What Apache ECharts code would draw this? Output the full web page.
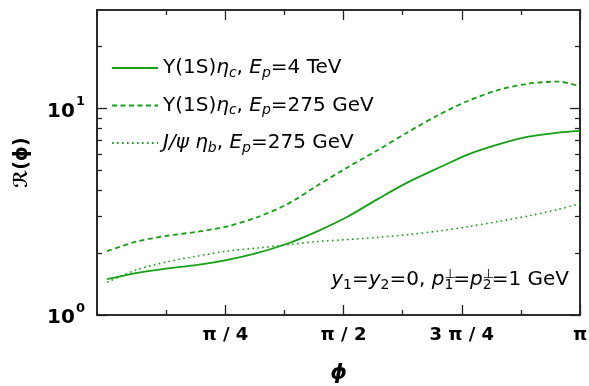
<!DOCTYPE html>
<html>
<head>
<meta charset="utf-8">
<script src="https://cdn.jsdelivr.net/npm/echarts@6/dist/echarts.min.js"></script>
<style>
  html, body { margin: 0; padding: 0; background: #fff; }
  #chart { width: 589px; height: 386px; }
</style>
</head>
<body>
<div id="chart"></div>
<script>
// phi grid (radians) and the three ratio curves
const phi = [0, 0.2, 0.4, 0.6, 0.8, 1.0, 1.2, 1.4, 1.6, 1.8, 2.0, 2.2, 2.4, 2.6, 2.8, 3.0, Math.PI];
const upsEtac4TeV = [1.49, 1.60, 1.68, 1.75, 1.85, 2.0, 2.22, 2.55, 3.0, 3.65, 4.4, 5.15, 6.0, 6.7, 7.3, 7.65, 7.8];
const upsEtac275 = [2.04, 2.27, 2.42, 2.53, 2.69, 2.98, 3.45, 4.25, 5.2, 6.3, 7.7, 9.3, 10.9, 12.3, 13.2, 13.5, 12.8];
const psiEtab275 = [1.44, 1.66, 1.81, 1.93, 2.04, 2.11, 2.19, 2.27, 2.32, 2.38, 2.45, 2.55, 2.68, 2.84, 3.02, 3.25, 3.46];

const seriesNames = ['ups4', 'ups275', 'psi275'];

// axis ticks
const xMajor = [Math.PI / 4, Math.PI / 2, 3 * Math.PI / 4, Math.PI];
const xMajorLabels = ['π / 4', 'π / 2', '3 π / 4', 'π'];
const xMinor = [Math.PI / 8, 3 * Math.PI / 8, 5 * Math.PI / 8, 7 * Math.PI / 8];
const yMajor = [1, 10];
const yMajorLabels = ['0', '1'];
const yMinor = [2, 3, 4, 5, 6, 7, 8, 9, 20];

const green = '#14a014';
const frame = '#222';
const font = 'DejaVu Sans';

const chart = echarts.init(document.getElementById('chart'));

function pairs(ys) {
  return phi.map((p, i) => [p, ys[i]]);
}

// same rectangle for every grid: one grid per pair of tick axes
const gridBox = { left: 97, right: 9, top: 10, bottom: 71, containLabel: false, outerBoundsMode: 'none' };

function xAxisCfg(grid, pos, ticks, len, withLabels) {
  return {
    gridIndex: grid, type: 'value', position: pos, min: -0.067, max: Math.PI,
    splitLine: { show: false },
    axisLine: { show: true, onZero: false, lineStyle: { color: frame, width: 1.6 } },
    axisTick: { show: true, inside: true, length: len, customValues: ticks, lineStyle: { color: frame, width: 1.3 } },
    axisLabel: withLabels ? {
      show: true, customValues: xMajor, margin: 11,
      color: '#000', fontFamily: font, fontWeight: 'bold', fontSize: 18,
      formatter: v => {
        const i = xMajor.findIndex(t => Math.abs(t - v) < 1e-6);
        return i >= 0 ? xMajorLabels[i] : '';
      }
    } : { show: false },
    name: withLabels ? 'ϕ' : '',
    nameLocation: 'middle', nameGap: 48,
    nameTextStyle: { color: '#000', fontFamily: font, fontWeight: 'bold', fontStyle: 'italic', fontSize: 21 }
  };
}

function yAxisCfg(grid, pos, ticks, len, withLabels) {
  return {
    gridIndex: grid, type: 'log', logBase: 10, position: pos, min: 1, max: 30,
    splitLine: { show: false },
    minorTick: { show: false },
    axisLine: { show: true, onZero: false, lineStyle: { color: frame, width: 1.6 } },
    axisTick: { show: true, inside: true, length: len, customValues: ticks, lineStyle: { color: frame, width: 1.3 } },
    axisLabel: withLabels ? {
      show: true, customValues: yMajor, margin: 12,
      formatter: v => {
        const i = yMajor.findIndex(t => Math.abs(t - v) < 1e-6);
        return i >= 0 ? '{b|10}{s|' + yMajorLabels[i] + '}' : '';
      },
      rich: {
        b: { color: '#000', fontFamily: font, fontWeight: 'bold', fontSize: 20, lineHeight: 26, verticalAlign: 'bottom' },
        s: { color: '#000', fontFamily: font, fontWeight: 'bold', fontSize: 13, lineHeight: 26, verticalAlign: 'top', padding: [0, 0, 8, 1] }
      }
    } : { show: false },
    name: withLabels ? 'ℛ(ϕ)' : '',
    nameLocation: 'middle', nameGap: 65, nameRotate: 90,
    nameTextStyle: { color: '#000', fontFamily: font, fontWeight: 'bold', fontSize: 19 }
  };
}

const legendText = {
  ups4: '{n|Υ(1S)}{i|η}{sub|c}{n|, }{i|E}{sub|p}{n|=4 TeV}',
  ups275: '{n|Υ(1S)}{i|η}{sub|c}{n|, }{i|E}{sub|p}{n|=275 GeV}',
  psi275: '{i|J/ψ η}{sub|b}{n|, }{i|E}{sub|p}{n|=275 GeV}'
};

const richText = {
  n: { color: '#000', fontFamily: font, fontSize: 20, lineHeight: 24, verticalAlign: 'middle' },
  i: { color: '#000', fontFamily: font, fontStyle: 'italic', fontSize: 20, lineHeight: 24, verticalAlign: 'middle' },
  sub: { color: '#000', fontFamily: font, fontStyle: 'italic', fontSize: 14, lineHeight: 12, verticalAlign: 'bottom' },
  subn: { color: '#000', fontFamily: font, fontSize: 14, lineHeight: 12, verticalAlign: 'bottom' },
  sup: { color: '#000', fontFamily: font, fontSize: 13, lineHeight: 12, verticalAlign: 'top', width: 0 }
};

const option = {
  animation: false,
  grid: [gridBox, gridBox, gridBox, gridBox],
  xAxis: [
    xAxisCfg(0, 'bottom', xMajor, 10, true),
    xAxisCfg(1, 'top', xMajor, 10, false),
    xAxisCfg(2, 'bottom', xMinor, 5, false),
    xAxisCfg(3, 'top', xMinor, 5, false)
  ],
  yAxis: [
    yAxisCfg(0, 'left', yMajor, 10, true),
    yAxisCfg(1, 'right', yMajor, 10, false),
    yAxisCfg(2, 'left', yMinor, 5, false),
    yAxisCfg(3, 'right', yMinor, 5, false)
  ],
  legend: {
    orient: 'vertical', left: 106, top: 53,
    itemWidth: 46, itemHeight: 2, itemGap: 15.5,
    itemStyle: { opacity: 0 },
    data: seriesNames,
    formatter: name => legendText[name],
    textStyle: { rich: richText, padding: [0, 0, 0, 0] }
  },
  graphic: [{
    type: 'text', right: 20, top: 268,
    style: {
      text: '{i|y}{subn|1}{n|=}{i|y}{subn|2}{n|=0, }{i|p}{sup|⊥}{subn|1}{n|=}{i|p}{sup|⊥}{subn|2}{n|=1 GeV}',
      rich: richText
    }
  }],
  series: [
    { name: 'ups4', type: 'line', data: pairs(upsEtac4TeV), smooth: 0.3, symbol: 'none',
      lineStyle: { color: green, width: 1.8, type: 'solid' }, itemStyle: { color: green } },
    { name: 'ups275', type: 'line', data: pairs(upsEtac275), smooth: 0.3, symbol: 'none',
      lineStyle: { color: green, width: 1.8, type: [5, 3.5] }, itemStyle: { color: green } },
    { name: 'psi275', type: 'line', data: pairs(psiEtab275), smooth: 0.3, symbol: 'none',
      lineStyle: { color: green, width: 1.6, type: [1.6, 3.4] }, itemStyle: { color: green } }
  ]
};

chart.setOption(option);
</script>
</body>
</html>
